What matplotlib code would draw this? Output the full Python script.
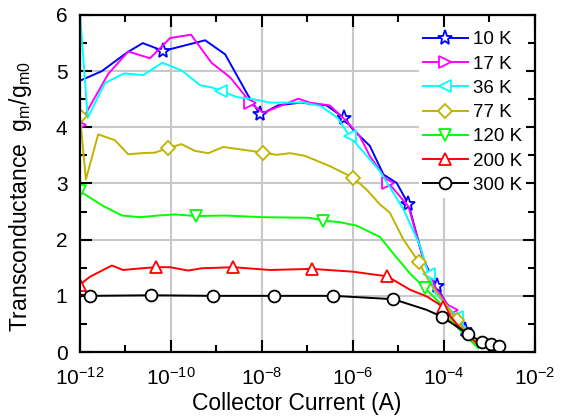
import numpy as np
import matplotlib
matplotlib.use("Agg")
import matplotlib.pyplot as plt

plt.rcParams['font.family'] = ['Liberation Sans', 'DejaVu Sans']
plt.rcParams['mathtext.default'] = 'regular'
plt.rcParams['axes.unicode_minus'] = False

# log10 of collector current (A) and normalised transconductance
logI_10K = [-12.0, -11.52, -10.97, -10.62, -10.17, -9.25, -8.81, -8.30, -8.04, -7.93, -7.65, -7.16,
            -6.58, -6.20, -6.0, -5.63, -5.33, -5.04, -4.78, -4.45, -4.16, -3.87, -3.54, -3.32]
gm_10K = [4.83, 5.0, 5.33, 5.50, 5.36, 5.55, 5.30, 4.56, 4.23, 4.27, 4.39, 4.44,
          4.39, 4.17, 3.96, 3.67, 3.16, 3.01, 2.63, 1.64, 1.17, 0.75, 0.39, 0.16]
mk_10K = [4, 8, 13, 18, 20, 22]

logI_17K = [-12.0, -11.82, -11.38, -10.94, -10.46, -10.02, -9.56, -9.11, -8.70, -8.37, -8.26, -7.97,
            -7.20, -6.95, -6.51, -6.14, -5.85, -5.63, -5.22, -4.78, -4.45, -4.16, -3.83, -3.40]
gm_17K = [4.05, 4.32, 4.95, 5.35, 5.23, 5.59, 5.65, 5.15, 4.89, 4.56, 4.43, 4.26,
          4.51, 4.44, 4.39, 4.11, 3.84, 3.49, 3.01, 2.59, 1.64, 1.11, 0.75, 0.20]
mk_17K = [0, 10, 18, 22]

logI_36K = [-12.0, -11.83, -11.45, -11.03, -10.61, -10.19, -9.76, -9.36, -9.11, -8.89, -8.56, -8.19,
            -7.82, -7.08, -6.71, -6.34, -6.07, -5.63, -5.41, -4.89, -4.52, -4.34, -4.19, -3.72, -3.30]
gm_36K = [6.02, 4.17, 4.79, 4.96, 4.93, 5.15, 5.01, 4.75, 4.71, 4.65, 4.54, 4.50,
          4.44, 4.44, 4.38, 4.17, 3.84, 3.43, 3.22, 2.54, 1.88, 1.38, 1.05, 0.63, 0.18]
mk_36K = [9, 16, 21, 23]

logI_77K = [-12.0, -11.87, -11.6, -11.23, -10.94, -10.65, -10.35, -10.07, -9.77, -9.47, -9.18, -8.85,
            -7.97, -7.68, -7.38, -7.05, -6.51, -5.99, -5.70, -5.41, -5.19, -4.89, -4.56, -4.31,
            -4.09, -3.72, -3.30]
gm_77K = [4.2, 3.07, 3.875, 3.77, 3.52, 3.54, 3.55, 3.63, 3.70, 3.58, 3.54, 3.65,
          3.55, 3.51, 3.54, 3.49, 3.31, 3.10, 2.89, 2.63, 2.48, 2.0, 1.61, 1.23,
          0.99, 0.57, 0.13]
mk_77K = [0, 7, 12, 17, 22, 25]

logI_120K = [-12.0, -11.49, -11.08, -10.68, -10.28, -9.91, -9.44, -8.81, -7.97, -6.95, -6.65, -6.28,
             -5.92, -5.41, -5.04, -4.75, -4.42, -4.09, -3.65, -3.25]
gm_120K = [2.86, 2.60, 2.43, 2.40, 2.43, 2.45, 2.42, 2.43, 2.40, 2.39, 2.34, 2.31,
           2.25, 2.05, 1.68, 1.40, 1.14, 0.87, 0.39, 0.07]
mk_120K = [0, 6, 10, 16]

logI_200K = [-12.0, -11.78, -11.30, -11.05, -10.79, -10.33, -10.02, -9.62, -9.33, -8.63, -7.82, -6.91,
             -6.0, -5.55, -5.25, -4.75, -4.38, -4.03, -3.65, -3.21]
gm_200K = [1.2, 1.34, 1.54, 1.46, 1.48, 1.51, 1.51, 1.45, 1.49, 1.51, 1.46, 1.48,
           1.43, 1.38, 1.35, 1.11, 0.99, 0.81, 0.43, 0.11]
mk_200K = [0, 5, 9, 11, 14, 17]

logI_300K = [-12.0, -11.78, -10.44, -9.07, -7.74, -6.43, -5.11, -4.38, -4.05, -3.47, -3.17, -2.97, -2.80]
gm_300K = [1.02, 1.0, 1.01, 1.0, 1.0, 1.0, 0.94, 0.75, 0.63, 0.32, 0.18, 0.14, 0.11]
mk_300K = [1, 2, 3, 4, 5, 6, 8, 9, 10, 11, 12]

series = [
    ('10 K', logI_10K, gm_10K, mk_10K, '#0000FF', '*', 11),
    ('17 K', logI_17K, gm_17K, mk_17K, '#FF00FF', '>', 9),
    ('36 K', logI_36K, gm_36K, mk_36K, '#00FFFF', '<', 9),
    ('77 K', logI_77K, gm_77K, mk_77K, '#BFB300', 'D', 7.5),
    ('120 K', logI_120K, gm_120K, mk_120K, '#00FF00', 'v', 9),
    ('200 K', logI_200K, gm_200K, mk_200K, '#FF0000', '^', 9),
    ('300 K', logI_300K, gm_300K, mk_300K, '#000000', 'o', 8.5),
]

fig = plt.figure(figsize=(5.66, 4.2), dpi=100)
ax = fig.add_axes([0.1413, 0.1619, 0.8039, 0.8024])

for name, lx, g, mk, col, m, ms in series:
    ax.plot(np.power(10.0, lx), g, color=col, lw=1.4, marker=m, markevery=mk,
            ms=ms, mfc='white', mec=col, mew=1.3, label=name)

ax.set_xscale('log')
ax.set_xlim(1e-12, 1e-2)
ax.set_ylim(0, 6)
ax.set_xticks([1e-12, 1e-10, 1e-8, 1e-6, 1e-4, 1e-2])
ax.set_xticks([1e-11, 1e-9, 1e-7, 1e-5, 1e-3], minor=True)
ax.set_xticklabels([r'$10^{-12}$', r'$10^{-10}$', r'$10^{-8}$', r'$10^{-6}$', r'$10^{-4}$', r'$10^{-2}$'])
ax.set_xticklabels([], minor=True)
ax.set_yticks([0, 1, 2, 3, 4, 5, 6])
ax.set_yticks(np.arange(0.5, 6, 1.0), minor=True)

ax.grid(True, which='major', color='#C8C8C8', lw=1.5)
ax.set_axisbelow(True)

for s in ax.spines.values():
    s.set_linewidth(1.6)
ax.tick_params(which='both', direction='in', top=True, right=True, width=1.5, labelsize=15)
ax.tick_params(which='major', length=8.5)
ax.tick_params(which='minor', length=5)
ax.tick_params(axis='x', pad=11)
ax.tick_params(axis='y', pad=9)

ax.set_xlabel('Collector Current (A)', fontsize=16.5)
ax.set_ylabel(r'Transconductance  g$_{m}$/g$_{m0}$', fontsize=16.5)
ax.xaxis.set_label_coords(0.476, -0.118)
ax.yaxis.set_label_coords(-0.10, 0.46)

leg = ax.legend(loc='upper left', bbox_to_anchor=(0.745, 0.963), fontsize=13.5, frameon=True,
                fancybox=False, edgecolor='none', facecolor='white', framealpha=1.0,
                borderpad=0.2, borderaxespad=0, handlelength=2.4, handletextpad=0.3,
                labelspacing=0.38)

plt.savefig('out.png', dpi=100)
